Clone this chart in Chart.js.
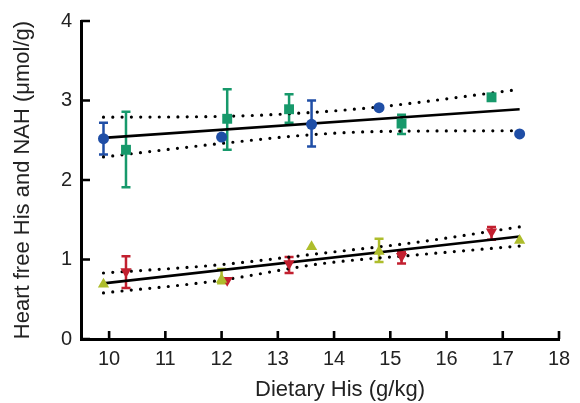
<!DOCTYPE html>
<html>
<head>
<meta charset="utf-8">
<script src="https://cdn.jsdelivr.net/npm/chart.js@4/dist/chart.umd.min.js"></script>
<style>
  html, body { margin: 0; padding: 0; background: #fff; }
  #c { display: block; }
</style>
</head>
<body>
<canvas id="c" width="580" height="403"></canvas>
<script>
// tick labels
const xTicks = [10, 11, 12, 13, 14, 15, 16, 17, 18];
const yTicks = [0, 1, 2, 3, 4];
const xTitle = 'Dietary His (g/kg)';
const yTitle = 'Heart free His and NAH (μmol/g)';

// free His (blue circles)
const blueX  = [9.9, 12.0, 13.6, 14.8, 17.3];
const blueY  = [2.52, 2.54, 2.70, 2.91, 2.58];
const blueLo = [2.32, null, 2.42, null, null];
const blueHi = [2.72, null, 3.00, null, null];

// green squares
const greenX  = [10.3, 12.1, 13.2, 15.2, 16.8];
const greenY  = [2.38, 2.77, 2.89, 2.71, 3.04];
const greenLo = [1.91, 2.38, 2.72, 2.58, null];
const greenHi = [2.86, 3.14, 3.08, 2.82, null];

// lime up-triangles
const limeX  = [9.9, 12.0, 13.6, 14.8, 17.3];
const limeY  = [0.69, 0.75, 1.16, 1.10, 1.24];
const limeLo = [null, 0.70, null, 0.97, null];
const limeHi = [null, 0.88, null, 1.26, null];

// red down-triangles
const redX  = [10.3, 12.1, 13.2, 15.2, 16.8];
const redY  = [0.85, 0.74, 0.95, 1.04, 1.35];
const redLo = [0.64, null, 0.83, 0.95, 1.25];
const redHi = [1.04, null, 1.03, 1.09, 1.41];

// regression lines + confidence bands
const fitX = [9.9, 17.3];
const upperFitY = [2.53, 2.89];
const lowerFitY = [0.70, 1.29];
const upperBandX = [9.9, 12.0, 13.6, 14.8, 17.3];
const upperBandHi = [2.79, 2.80, 2.85, 2.92, 3.14];
const upperBandLo = [2.29, 2.46, 2.57, 2.61, 2.62];
const lowerBandX = [9.9, 11.9, 13.8, 15.5, 17.3];
const lowerBandHi = [0.83, 0.93, 1.08, 1.22, 1.41];
const lowerBandLo = [0.58, 0.73, 0.95, 1.06, 1.17];

const BLUE = '#1f4ea6';
const GREEN = '#17996b';
const LIME = '#aebd2c';
const RED = '#c21f2f';
const TXT = '#222';
const FAMILY = '"Liberation Sans", Arial, sans-serif';

const pts = (xs, ys) => xs.map((x, i) => ({ x: x, y: ys[i] }));

function markerSet(label, xs, ys, lo, hi, color, style, radius, rot) {
    return {
        label: label,
        data: pts(xs, ys),
        errLo: lo,
        errHi: hi,
        showLine: false,
        pointStyle: style,
        pointRadius: radius,
        pointRotation: rot || 0,
        backgroundColor: color,
        borderColor: color,
        borderWidth: 0,
        order: 0
    };
}

function lineSet(xs, ys, dotted) {
    return {
        data: pts(xs, ys),
        showLine: true,
        borderColor: '#000',
        borderWidth: dotted ? 3.2 : 2.6,
        borderDash: dotted ? [0, 9.3] : [],
        borderCapStyle: dotted ? 'round' : 'butt',
        pointRadius: 0,
        tension: dotted ? 0.4 : 0,
        cubicInterpolationMode: 'monotone',
        fill: false,
        order: 5
    };
}

const errorBars = {
    id: 'errorBars',
    beforeDatasetsDraw(chart) {
        const { ctx, scales: { x, y } } = chart;
        chart.data.datasets.forEach(ds => {
            if (!ds.errLo) return;
            ctx.save();
            ctx.strokeStyle = ds.borderColor;
            ctx.lineWidth = 2.5;
            ds.data.forEach((p, i) => {
                if (ds.errLo[i] == null) return;
                const px = x.getPixelForValue(p.x);
                const y1 = y.getPixelForValue(ds.errLo[i]);
                const y2 = y.getPixelForValue(ds.errHi[i]);
                ctx.beginPath();
                ctx.moveTo(px, y1); ctx.lineTo(px, y2);
                ctx.moveTo(px - 4.5, y1); ctx.lineTo(px + 4.5, y1);
                ctx.moveTo(px - 4.5, y2); ctx.lineTo(px + 4.5, y2);
                ctx.stroke();
            });
            ctx.restore();
        });
    }
};

// ticks point inwards in the original, x title sits a bit right of centre
const axisExtras = {
    id: 'axisExtras',
    afterDraw(chart) {
        const { ctx, chartArea, scales: { x, y } } = chart;
        ctx.save();
        ctx.strokeStyle = '#000';
        ctx.lineWidth = 2.6;
        ctx.beginPath();
        x.ticks.forEach(t => {
            const px = x.getPixelForValue(t.value);
            ctx.moveTo(px, chartArea.bottom);
            ctx.lineTo(px, chartArea.bottom - 8);
        });
        y.ticks.forEach(t => {
            const py = y.getPixelForValue(t.value);
            ctx.moveTo(chartArea.left, py);
            ctx.lineTo(chartArea.left + 9, py);
        });
        ctx.stroke();

        ctx.fillStyle = TXT;
        ctx.font = '22px ' + FAMILY;
        ctx.textAlign = 'center';
        ctx.textBaseline = 'middle';
        ctx.fillText(xTitle, (chartArea.left + chartArea.right) / 2 + 20, 390);
        ctx.restore();
    }
};

const tickFont = { family: FAMILY, size: 20 };

new Chart(document.getElementById('c'), {
    type: 'scatter',
    data: {
        datasets: [
            markerSet('blue', blueX, blueY, blueLo, blueHi, BLUE, 'circle', 5.5),
            markerSet('green', greenX, greenY, greenLo, greenHi, GREEN, 'rect', 7),
            markerSet('lime', limeX, limeY, limeLo, limeHi, LIME, 'triangle', 6.5),
            markerSet('red', redX, redY, redLo, redHi, RED, 'triangle', 6.5, 180),
            lineSet(fitX, upperFitY, false),
            lineSet(upperBandX, upperBandHi, true),
            lineSet(upperBandX, upperBandLo, true),
            lineSet(fitX, lowerFitY, false),
            lineSet(lowerBandX, lowerBandHi, true),
            lineSet(lowerBandX, lowerBandLo, true)
        ]
    },
    options: {
        responsive: false,
        animation: false,
        layout: { padding: { left: 0, top: 20, right: 21, bottom: 0 } },
        plugins: {
            legend: { display: false },
            tooltip: { enabled: false }
        },
        scales: {
            x: {
                type: 'linear',
                min: 9.5,
                max: 18,
                afterBuildTicks: s => { s.ticks = xTicks.map(v => ({ value: v })); },
                afterFit: s => { s.height = 64; },
                grid: { drawOnChartArea: false, drawTicks: false },
                border: { color: '#000', width: 3 },
                ticks: { color: TXT, font: tickFont, padding: 8 }
            },
            y: {
                type: 'linear',
                min: 0,
                max: 4,
                afterBuildTicks: s => { s.ticks = yTicks.map(v => ({ value: v })); },
                afterFit: s => { s.width = 81; },
                grid: { drawOnChartArea: false, drawTicks: false },
                border: { color: '#000', width: 3 },
                ticks: { color: TXT, font: tickFont, padding: 9 },
                title: {
                    display: true,
                    text: yTitle,
                    color: TXT,
                    font: { family: FAMILY, size: 22 },
                    padding: { top: 10, bottom: 0 }
                }
            }
        }
    },
    plugins: [errorBars, axisExtras]
});
</script>
</body>
</html>
